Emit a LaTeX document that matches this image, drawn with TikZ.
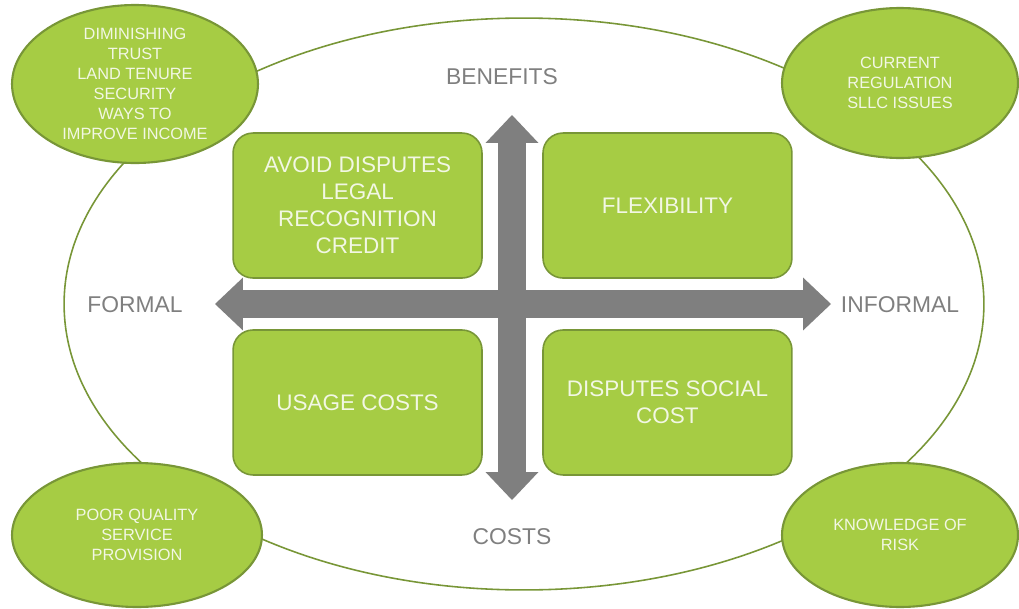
\documentclass[tikz,border=0pt]{standalone}
\usepackage{fontspec}
\setmainfont{Liberation Sans}
\usetikzlibrary{positioning,shapes.geometric,arrows.meta}
\definecolor{leaf}{RGB}{166,204,68}
\definecolor{leafline}{RGB}{120,150,55}
\definecolor{pale}{RGB}{242,247,228}
\definecolor{axisgray}{RGB}{127,127,127}
\tikzset{issue/.style={ellipse, draw=leafline, line width=1.2pt, fill=leaf, text=pale, inner sep=0, align=center, font=\fontsize{9.3}{11.4}\selectfont}}
\tikzset{quad/.style={rounded corners=0.4cm, draw=leafline, line width=0.9pt, fill=leaf, text=pale, align=center, minimum width=4.98cm, minimum height=2.9cm, outer sep=0, inner sep=0, font=\fontsize{12.8}{15.4}\selectfont}}
\tikzset{axlabel/.style={text=axisgray, inner sep=0, font=\fontsize{13}{14}\selectfont}}
\tikzset{axarr/.style={draw=axisgray, line width=0.56cm, {Triangle[width=1.06cm,length=0.56cm,line width=0pt]}-{Triangle[width=1.06cm,length=0.56cm,line width=0pt]}}}

\begin{document}
\begin{tikzpicture}[x=0.02cm, y=-0.02cm]
	\useasboundingbox (0,0) rectangle (1019,609);
	% outer frame
	\node[ellipse, draw=leafline, line width=0.9pt, minimum width=18.4cm, minimum height=11.44cm, inner sep=0] (frame) at (524,304) {};
	%
	\node[issue, minimum width=4.92cm, minimum height=3.04cm] (trust) at (135,84) {DIMINISHING\\TRUST\\LAND TENURE\\SECURITY\\WAYS TO\\IMPROVE INCOME};
	\node[issue, minimum width=4.72cm, minimum height=3.0cm] (regul) at (900,83) {CURRENT\\REGULATION\\SLLC ISSUES};
	\node[issue, minimum width=5.0cm, minimum height=2.88cm] (service) at (137,535) {POOR QUALITY\\SERVICE\\PROVISION};
	\node[issue, minimum width=4.72cm, minimum height=2.88cm] (risk) at (900,535) {KNOWLEDGE OF\\RISK};
	%
	\coordinate (O) at (512,304);
	\node[quad, above left=0.52cm and 0.6cm of O] (avoid) {AVOID DISPUTES\\LEGAL\\RECOGNITION\\CREDIT};
	\node[quad, above right=0.52cm and 0.62cm of O] (flex) {FLEXIBILITY};
	\node[quad, below left=0.52cm and 0.6cm of O] (usage) {USAGE COSTS};
	\node[quad, below right=0.52cm and 0.62cm of O] (social) {DISPUTES SOCIAL\\COST};
	%
	\coordinate (top) at (512,115);
	\coordinate (bot) at (512,500);
	\coordinate (lft) at (215,304);
	\coordinate (rgt) at (831,304);
	\draw[axarr] (bot) -- (top);
	\draw[axarr] (lft) -- (rgt);
	%
	\node[axlabel] (benefits) at (502,77) {BENEFITS};
	\node[axlabel] (costs) at (512,537) {COSTS};
	\node[axlabel] (formal) at (135,305) {FORMAL};
	\node[axlabel] (informal) at (900,305) {INFORMAL};
\end{tikzpicture}
\end{document}
